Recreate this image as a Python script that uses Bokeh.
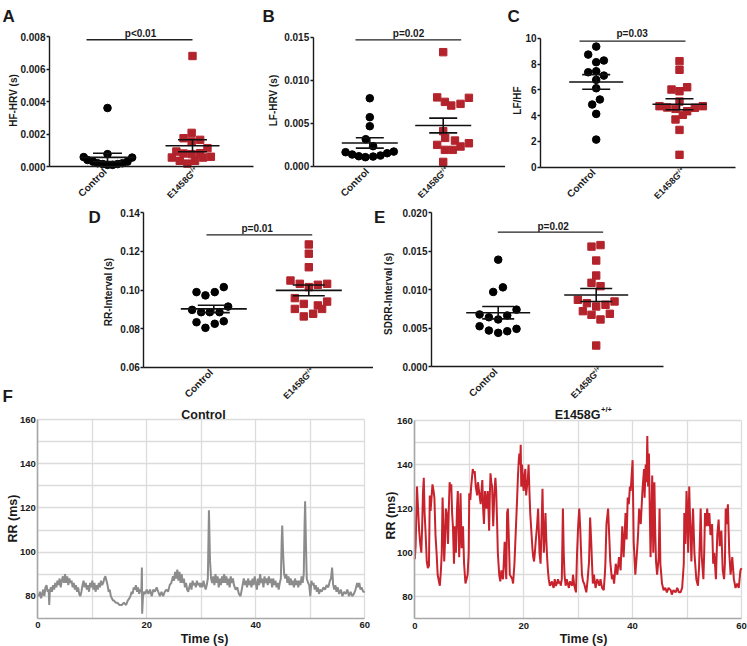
import math
from bokeh.plotting import figure
from bokeh.layouts import row, column
from bokeh.models import Label, FixedTicker, NumeralTickFormatter, Range1d
from bokeh.embed import file_html
from bokeh.resources import INLINE

FONT = "Liberation Sans"
RED = "#b3232b"
TXT = "#1a1a1a"

groups = ["Control", "E1458G"]
sup = "+/+"

# ---------------- Panel A : HF-HRV ----------------
a_ctrl = [0.0036, 0.00076, 0.00058, 0.00055, 0.0004, 0.0003, 0.0002, 0.00015, 0.0001, 0.0001, 0.00015, 0.0002, 0.0003]
a_ctrl_dx = [0, 0, -0.28, 0.29, -0.235, -0.17, -0.115, -0.055, 0, 0.06, 0.12, 0.175, 0.235]
a_mut = [0.0068, 0.00207, 0.00174, 0.00164, 0.00154, 0.00092, 0.00113, 0.00082, 0.00076, 0.0008, 0.00055, 0.0006, 0.00055, 0.00035, 0.00035, 0.00018]
a_mut_dx = [0, -0.01, -0.105, 0.09, -0.01, -0.19, 0.176, 0.09, -0.01, -0.105, -0.243, 0.216, 0.125, -0.15, 0.03, -0.06]
a_mean = [0.00056, 0.00128]
a_sem = [0.00026, 0.00037]
a_ticks = [0, 0.002, 0.004, 0.006, 0.008]
a_pline = [0.753, 2.0, 0.0078]
a_ptext = "p<0.01"

# ---------------- Panel B : LF-HRV ----------------
b_ctrl = [0.0079, 0.0057, 0.00465, 0.00314, 0.00233, 0.00163, 0.00136, 0.00116, 0.00105, 0.00112, 0.00124, 0.00151, 0.0017]
b_ctrl_dx = [0, 0, 0, -0.055, 0.045, -0.33, -0.24, -0.15, -0.06, 0.045, 0.145, 0.236, 0.327]
b_mut = [0.01326, 0.008, 0.00748, 0.00705, 0.00725, 0.00795, 0.00407, 0.00329, 0.00298, 0.00248, 0.00229, 0.00267, 0.0019, 0.0019, 0.0005]
b_mut_dx = [0, -0.082, 0.023, 0.11, 0.236, 0.35, 0, 0.027, 0.16, -0.082, 0.236, 0.35, 0.023, 0.13, 0]
b_mean = [0.0027, 0.00473]
b_sem = [0.0006, 0.00086]
b_ticks = [0, 0.005, 0.010, 0.015]
b_pline = [0.805, 2.245, 0.0147]
b_ptext = "p=0.02"

# ---------------- Panel C : LF/HF ----------------
c_ctrl = [9.35, 8.73, 8.14, 8.27, 7.36, 7.44, 7.1, 6.77, 6.12, 5.25, 4.86, 4.13, 2.14]
c_ctrl_dx = [0, -0.096, 0, 0.092, -0.096, 0, 0.092, 0, 0, 0.044, -0.048, 0, 0]
c_mut = [8.22, 7.55, 6.02, 5.89, 6.2, 5.09, 4.73, 4.63, 4.52, 4.6, 4.73, 4.34, 4.06, 3.7, 2.89, 0.96]
c_mut_dx = [0, 0, -0.096, 0, 0.092, 0, -0.24, -0.148, -0.048, 0.184, 0.28, 0.092, 0.04, -0.048, 0, 0]
c_mean = [6.61, 4.88]
c_sem = [0.57, 0.43]
c_ticks = [0, 2, 4, 6, 8, 10]
c_pline = [0.8, 2.072, 9.77]
c_ptext = "p=0.03"

# ---------------- Panel D : RR-Interval ----------------
d_ctrl = [0.0989, 0.0972, 0.0989, 0.1015, 0.0897, 0.0885, 0.0885, 0.0885, 0.0914, 0.0833, 0.0804, 0.0825, 0.0838]
d_ctrl_dx = [-0.182, -0.088, 0.01, 0.105, -0.228, -0.133, -0.042, 0.06, 0.151, -0.182, -0.088, 0.01, 0.105]
d_mut = [0.1236, 0.1188, 0.1118, 0.1049, 0.1032, 0.1015, 0.1027, 0.1032, 0.0958, 0.0928, 0.094, 0.0902, 0.092, 0.0902, 0.0863, 0.0877]
d_mut_dx = [0, 0, 0, -0.193, -0.095, 0, 0.095, 0.193, -0.147, -0.053, 0.193, -0.147, 0.095, 0.14, -0.053, 0.046]
d_mean = [0.0902, 0.0998]
d_sem = [0.0019, 0.0028]
d_ticks = [0.06, 0.08, 0.10, 0.12, 0.14]
d_pline = [0.923, 2.036, 0.1286]
d_ptext = "p=0.01"

# ---------------- Panel E : SDRR-Interval ----------------
e_ctrl = [0.0139, 0.0103, 0.0097, 0.0074, 0.00677, 0.00641, 0.00612, 0.00664, 0.00524, 0.00468, 0.00438, 0.00459, 0.0049]
e_ctrl_dx = [0, 0.048, -0.051, 0.187, -0.19, -0.095, 0, 0.092, -0.19, -0.095, 0, 0.092, 0.187]
e_mut = [0.0156, 0.0158, 0.01379, 0.01184, 0.01089, 0.01045, 0.00868, 0.00824, 0.00781, 0.00803, 0.00846, 0.0072, 0.00673, 0.00612, 0.00686, 0.00273]
e_mut_dx = [-0.048, 0.044, 0, 0, -0.048, 0.044, -0.187, -0.095, 0, 0.095, 0.187, -0.136, -0.048, 0.044, 0.139, 0]
e_mean = [0.0070, 0.0093]
e_sem = [0.0008, 0.00085]
e_ticks = [0, 0.005, 0.010, 0.015, 0.020]
e_pline = [0.996, 2.071, 0.01748]
e_ptext = "p=0.02"

# ---------------- Panel F : RR traces ----------------
f_xticks = [0, 20, 40, 60]
f_xgrid = [0, 10, 20, 30, 40, 50, 60]
f_yticks = [80, 100, 120, 140, 160]
f_ygrid = [80, 90, 100, 110, 120, 130, 140, 150, 160]

ctrl_t = [0.0, 0.2, 0.4, 0.6, 0.8, 1.0, 1.2, 1.4, 1.6, 1.8, 2.0, 2.1, 2.2, 2.4, 2.6, 2.8, 3.0, 3.2, 3.4, 3.6,
          3.8, 4.0, 4.2, 4.4, 4.6, 4.8, 5.0, 5.2, 5.4, 5.6, 5.8, 6.0, 6.2, 6.4, 6.6, 6.8, 7.0, 7.2, 7.4, 7.6,
          7.8, 8.0, 8.2, 8.4, 8.6, 8.8, 9.0, 9.2, 9.4, 9.6, 9.8, 10.0, 10.2, 10.4, 10.6, 10.8, 11.0, 11.2, 11.4, 11.6,
          11.8, 12.0, 12.2, 12.4, 12.6, 12.8, 13.0, 13.2, 13.4, 13.6, 13.8, 14.0, 14.3, 14.6, 15.0, 15.4, 15.8, 16.2, 16.5, 16.8,
          17.0, 17.2, 17.4, 17.6, 17.8, 18.0, 18.2, 18.4, 18.6, 18.8, 19.0, 19.1, 19.15, 19.3, 19.5, 19.7, 20.0, 20.3, 20.6, 20.9,
          21.2, 21.5, 21.8, 22.1, 22.4, 22.7, 23.0, 23.3, 23.6, 23.9, 24.2, 24.5, 24.8, 25.0, 25.2, 25.4, 25.6, 25.8, 26.0, 26.2,
          26.4, 26.6, 26.8, 27.0, 27.2, 27.4, 27.6, 27.8, 28.0, 28.2, 28.4, 28.6, 28.8, 29.0, 29.2, 29.4, 29.6, 29.8, 30.0, 30.2,
          30.4, 30.6, 30.8, 31.0, 31.2, 31.4, 31.6, 31.8, 32.0, 32.2, 32.4, 32.6, 32.8, 33.0, 33.2, 33.4, 33.6, 33.8, 34.0, 34.2,
          34.4, 34.6, 34.8, 35.0, 35.2, 35.4, 35.6, 35.8, 36.0, 36.3, 36.6, 36.9, 37.2, 37.5, 37.8, 38.0, 38.2, 38.4, 38.6, 38.8,
          39.0, 39.2, 39.4, 39.6, 39.8, 40.0, 40.2, 40.4, 40.6, 40.8, 41.0, 41.2, 41.4, 41.6, 41.8, 42.0, 42.2, 42.4, 42.6, 42.8,
          43.0, 43.2, 43.4, 43.6, 43.8, 44.0, 44.2, 44.4, 44.6, 44.75, 44.85, 45.0, 45.2, 45.4, 45.6, 45.8, 46.0, 46.2, 46.4, 46.6,
          46.8, 47.0, 47.2, 47.4, 47.6, 47.8, 48.0, 48.2, 48.4, 48.6, 48.8, 48.95, 49.05, 49.2, 49.35, 49.6, 49.8, 50.0, 50.2, 50.4,
          50.6, 50.8, 51.0, 51.2, 51.4, 51.6, 51.8, 52.1, 52.4, 52.7, 53.0, 53.3, 53.6, 53.8, 54.0, 54.2, 54.4, 54.6, 54.8, 55.0,
          55.3, 55.6, 55.9, 56.2, 56.5, 56.8, 57.1, 57.4, 57.7, 58.0, 58.3, 58.6, 58.8, 59.0, 59.2, 59.4, 59.7, 60.0]
ctrl_rr = [81, 80, 82, 79, 81, 83, 80, 84, 85, 82, 83, 76, 82, 84, 82, 85, 83, 86, 84, 87,
           85, 88, 84, 87, 89, 86, 90, 86, 89, 85, 88, 86, 87, 84, 86, 83, 85, 82, 84, 81,
           80, 82, 85, 87, 84, 86, 83, 85, 82, 86, 84, 87, 83, 86, 82, 85, 83, 86, 84, 87,
           85, 86, 88, 89, 87, 85, 82, 83, 80, 79, 78, 78, 77, 77, 76, 76, 77, 76, 78, 79,
           80, 82, 81, 84, 83, 85, 82, 84, 81, 83, 82, 93, 72, 80, 82, 81, 83, 81, 83, 80,
           83, 82, 84, 82, 80, 82, 80, 82, 83, 82, 85, 86, 89, 87, 91, 88, 92, 87, 91, 86,
           90, 86, 88, 84, 86, 83, 82, 84, 86, 83, 87, 85, 86, 84, 87, 85, 86, 84, 86, 84,
           87, 85, 83, 85, 88, 119, 96, 88, 86, 89, 85, 90, 86, 89, 84, 88, 85, 89, 86, 90,
           86, 89, 85, 88, 84, 89, 86, 88, 85, 83, 84, 81, 80, 84, 88, 85, 87, 84, 88, 85,
           87, 84, 88, 85, 89, 86, 83, 88, 85, 90, 86, 88, 84, 89, 86, 88, 85, 89, 86, 88,
           84, 88, 85, 87, 84, 86, 83, 86, 88, 105, 112, 100, 90, 88, 90, 86, 89, 85, 88, 85,
           87, 84, 88, 85, 87, 84, 87, 85, 89, 86, 90, 112, 123, 104, 88, 86, 85, 80, 87, 85,
           86, 83, 85, 82, 84, 81, 83, 82, 84, 83, 85, 84, 87, 88, 93, 85, 83, 85, 82, 84,
           81, 83, 80, 82, 81, 83, 80, 82, 80, 81, 83, 86, 84, 86, 83, 84, 82, 82]

mut_t = [0.0, 0.15, 0.4, 0.6, 0.8, 1.0, 1.2, 1.35, 1.5, 1.65, 1.8, 2.0, 2.2, 2.4, 2.6, 2.75, 2.9, 3.1, 3.25, 3.45,
         3.6, 3.8, 4.0, 4.2, 4.35, 4.5, 4.6, 4.8, 4.95, 5.1, 5.25, 5.4, 5.55, 5.7, 5.85, 6.0, 6.1, 6.25, 6.4, 6.55,
         6.7, 6.85, 7.0, 7.2, 7.35, 7.55, 7.75, 7.9, 8.05, 8.15, 8.4, 8.6, 8.85, 9.05, 9.3, 9.5, 9.7, 9.9, 10.0, 10.2,
         10.35, 10.5, 10.65, 10.8, 11.0, 11.2, 11.45, 11.6, 11.8, 12.0, 12.1, 12.25, 12.4, 12.55, 12.7, 12.9, 13.05, 13.2, 13.4, 13.55,
         13.65, 13.8, 13.9, 14.05, 14.2, 14.3, 14.4, 14.6, 14.8, 14.95, 15.1, 15.25, 15.4, 15.5, 15.7, 15.9, 16.05, 16.2, 16.35, 16.5,
         16.65, 16.8, 16.95, 17.1, 17.25, 17.45, 17.7, 17.9, 18.05, 18.3, 18.45, 18.6, 18.8, 18.95, 19.1, 19.2, 19.35, 19.45, 19.55, 19.7,
         19.85, 20.0, 20.15, 20.3, 20.45, 20.6, 20.75, 20.9, 21.05, 21.2, 21.4, 21.6, 21.75, 21.9, 22.05, 22.2, 22.45, 22.65, 22.8, 22.9,
         23.1, 23.3, 23.45, 23.6, 23.7, 23.85, 24.0, 24.15, 24.3, 24.45, 24.6, 24.8, 25.0, 25.2, 25.35, 25.5, 25.7, 25.9, 26.1, 26.3,
         26.5, 26.7, 26.8, 27.0, 27.2, 27.35, 27.5, 27.7, 27.9, 28.1, 28.3, 28.5, 28.7, 28.9, 29.05, 29.3, 29.6, 29.8, 30.0, 30.2,
         30.4, 30.6, 30.7, 30.9, 31.1, 31.3, 31.5, 31.75, 32.0, 32.2, 32.4, 32.55, 32.7, 32.9, 33.2, 33.5, 33.9, 34.1, 34.4, 34.7,
         34.9, 35.0, 35.2, 35.5, 35.7, 35.9, 36.2, 36.4, 36.6, 36.8, 36.9, 37.2, 37.5, 37.8, 38.1, 38.35, 38.5, 38.7, 38.9, 39.1,
         39.3, 39.5, 39.65, 39.8, 39.9, 40.0, 40.2, 40.5, 40.8, 41.0, 41.2, 41.5, 41.8, 42.1, 42.2, 42.4, 42.55, 42.7, 42.85, 43.0,
         43.15, 43.3, 43.45, 43.6, 43.8, 44.0, 44.15, 44.3, 44.5, 44.8, 44.95, 45.1, 45.4, 45.7, 46.0, 46.3, 46.6, 47.0, 47.2, 47.5,
         47.9, 48.2, 48.5, 48.8, 49.1, 49.4, 49.5, 49.7, 49.9, 50.0, 50.2, 50.4, 50.5, 50.8, 50.95, 51.1, 51.35, 51.7, 52.0, 52.2,
         52.4, 52.5, 52.7, 53.0, 53.15, 53.3, 53.5, 53.7, 53.9, 54.1, 54.3, 54.6, 54.8, 55.0, 55.3, 55.55, 55.8, 56.0, 56.3, 56.55,
         56.8, 56.95, 57.1, 57.25, 57.5, 57.75, 58.0, 58.3, 58.6, 58.9, 59.2, 59.5, 59.8, 60.0]
mut_rr = [97, 103, 130, 120, 110, 104, 100, 112, 127, 134, 118, 108, 96, 93, 94, 126, 119, 126, 131, 128,
          125, 108, 100, 90, 88, 86, 85, 92, 100, 125, 112, 96, 105, 120, 118, 110, 104, 120, 132, 128,
          131, 118, 112, 95, 112, 100, 120, 128, 110, 98, 127, 102, 112, 95, 86, 88, 90, 100, 127, 124,
          130, 134, 138, 136, 137, 130, 126, 132, 128, 124, 122, 128, 133, 120, 113, 128, 124, 120, 128, 118,
          110, 128, 136, 132, 130, 120, 112, 126, 134, 128, 115, 100, 94, 90, 87, 92, 89, 88, 96, 105,
          95, 88, 118, 120, 108, 90, 89, 88, 86, 95, 104, 113, 125, 135, 142, 145, 140, 149, 130, 140,
          132, 128, 135, 138, 126, 130, 133, 140, 128, 118, 110, 102, 98, 96, 100, 105, 112, 120, 108, 100,
          95, 113, 129, 110, 100, 108, 118, 106, 98, 92, 88, 85, 86, 87, 85, 84, 88, 85, 86, 88,
          86, 87, 85, 88, 120, 100, 90, 85, 88, 86, 84, 87, 86, 85, 90, 85, 82, 100, 112, 120,
          110, 96, 90, 87, 86, 84, 82, 88, 96, 116, 105, 95, 86, 90, 84, 88, 85, 88, 84, 83,
          90, 95, 113, 120, 108, 96, 88, 90, 86, 92, 95, 90, 98, 92, 112, 98, 106, 118, 106, 125,
          122, 130, 128, 134, 138, 142, 105, 90, 100, 108, 120, 113, 128, 138, 125, 140, 132, 153, 130, 145,
          120, 98, 115, 135, 100, 132, 110, 96, 90, 98, 120, 95, 86, 83, 84, 82, 84, 83, 81, 83,
          82, 84, 82, 82, 84, 95, 118, 104, 128, 122, 100, 130, 120, 96, 110, 120, 100, 88, 85, 93,
          110, 120, 98, 88, 100, 118, 112, 120, 112, 118, 108, 113, 95, 100, 88, 108, 115, 103, 110, 92,
          88, 95, 120, 113, 122, 100, 90, 98, 88, 84, 86, 84, 92, 93]


class PxMap:
    """Linear map from a page pixel position to a data value."""
    def __init__(self, px0, v0, px1, v1):
        self.px0, self.v0 = px0, v0
        self.s = (v1 - v0) / (px1 - px0)

    def __call__(self, px):
        return self.v0 + (px - self.px0) * self.s


def make_fig(box, X, Y, **kw):
    # box = (left, right, top, bottom) in page pixels; the frame covers the whole canvas
    l, r, t, b = box
    p = figure(width=r - l, height=b - t, x_range=Range1d(X(l), X(r)), y_range=Range1d(Y(b), Y(t)),
               output_backend="svg", toolbar_location=None, tools="", min_border=0, **kw)
    p.min_border_left = p.min_border_right = p.min_border_top = p.min_border_bottom = 0
    p.outline_line_color = None
    p.title.visible = False
    return p


def lab(p, X, Y, px, py, text, size="10px", **kw):
    base = dict(x=X(px), y=Y(py), text=text, text_font=FONT, text_font_style="bold",
                text_color=TXT, text_font_size=size)
    base.update(kw)
    p.add_layout(Label(**base))


def scatter_panel(box, cat_px, ypx, yv, axis_px, xend_px, ticks, fmt, ylabel, ylab_c,
                  letter, let_pos, ctrl, ctrl_dx, mut, mut_dx, mean, sem,
                  mean_hw_px, cap_hw_px, pline, ptext, ptext_pos):
    X = PxMap(cat_px[0], 1, cat_px[1], 2)
    Y = PxMap(ypx[0], yv[0], ypx[1], yv[1])
    p = make_fig(box, X, Y)
    p.xgrid.visible = False
    p.ygrid.visible = False

    yax = p.yaxis[0]
    yax.fixed_location = X(axis_px)
    yax.bounds = (yv[0], yv[1])
    yax.ticker = FixedTicker(ticks=ticks)
    yax.formatter = NumeralTickFormatter(format=fmt)
    yax.axis_line_color = TXT
    yax.axis_line_width = 1.4
    yax.major_tick_line_color = TXT
    yax.major_tick_line_width = 1.3
    yax.major_tick_out = 3
    yax.major_tick_in = 0
    yax.minor_tick_line_color = None
    yax.major_label_standoff = 1
    yax.major_label_text_font = FONT
    yax.major_label_text_font_style = "bold"
    yax.major_label_text_font_size = "10px"
    yax.major_label_text_color = TXT

    xax = p.xaxis[0]
    xax.fixed_location = yv[0]
    xax.bounds = (X(axis_px), X(xend_px))
    xax.ticker = FixedTicker(ticks=[])
    xax.axis_line_color = TXT
    xax.axis_line_width = 1.5
    xax.major_tick_line_color = None
    xax.minor_tick_line_color = None

    mhw = mean_hw_px * X.s
    chw = cap_hw_px * X.s

    p.scatter([1 + d for d in ctrl_dx], ctrl, marker="circle", size=7.6,
              fill_color="black", line_color="black")
    p.scatter([2 + d for d in mut_dx], mut, marker="square", size=7.4,
              fill_color=RED, line_color=RED)

    x0, x1, y0, y1 = [], [], [], []
    for c, m, s in zip([1, 2], mean, sem):
        x0 += [c - mhw, c - chw, c - chw, c]
        x1 += [c + mhw, c + chw, c + chw, c]
        y0 += [m, m + s, m - s, m - s]
        y1 += [m, m + s, m - s, m + s]
    p.segment(x0=x0, y0=y0, x1=x1, y1=y1, line_color="#111111", line_width=1.6)

    p.segment(x0=[pline[0]], y0=[pline[2]], x1=[pline[1]], y1=[pline[2]],
              line_color="#222222", line_width=1.3)
    lab(p, X, Y, ptext_pos[0], ptext_pos[1], ptext, text_align="center", text_baseline="alphabetic")
    lab(p, X, Y, ylab_c[0], ylab_c[1], ylabel, angle=math.pi / 2, text_align="center",
        text_baseline="middle")
    lab(p, X, Y, let_pos[0], let_pos[1], letter, size="17px", text_align="left",
        text_baseline="alphabetic")

    # rotated category labels, their ends just under each group
    axy = ypx[0]
    rot = dict(angle=math.pi / 4, text_align="right", text_baseline="middle")
    lab(p, X, Y, cat_px[0] - 2.5, axy + 3.5, groups[0], **rot)
    lab(p, X, Y, cat_px[1] - 0.5, axy + 7.0, groups[1], size="9px", **rot)
    lab(p, X, Y, cat_px[1] + 2.5, axy + 0.5, sup, size="6px", **rot)
    return p


def trace_panel(box, xpx, ypx, t, rr, color, ylab_c, time_c):
    X = PxMap(xpx[0], 0, xpx[1], 60)
    Y = PxMap(ypx[0], 160, ypx[1], 70)
    p = make_fig(box, X, Y)
    xax, yax = p.xaxis[0], p.yaxis[0]
    xax.fixed_location = 70
    xax.bounds = (0, 60)
    yax.fixed_location = 0
    yax.bounds = (70, 160)
    xax.ticker = FixedTicker(ticks=f_xticks)
    yax.ticker = FixedTicker(ticks=f_yticks)
    for ax in (xax, yax):
        ax.axis_line_color = "#a8a8a8"
        ax.axis_line_width = 1.6
        ax.major_tick_line_color = None
        ax.major_tick_out = 0
        ax.major_tick_in = 0
        ax.minor_tick_line_color = None
        ax.major_label_text_font = FONT
        ax.major_label_text_font_style = "bold"
        ax.major_label_text_font_size = "9.5px"
        ax.major_label_text_color = TXT
    xax.major_label_standoff = 4
    yax.major_label_standoff = 2

    xg, yg = p.xgrid[0], p.ygrid[0]
    xg.ticker = FixedTicker(ticks=f_xgrid)
    yg.ticker = FixedTicker(ticks=f_ygrid)
    try:
        xg.bounds = (0, 60)
        yg.bounds = (70, 160)
        xg.cross_bounds = (70, 160)
        yg.cross_bounds = (0, 60)
        for g in (xg, yg):
            g.grid_line_color = "#dcdcdc"
            g.grid_line_width = 1.3
    except AttributeError:
        xg.visible = False
        yg.visible = False
        p.segment(x0=f_xgrid, y0=[70] * len(f_xgrid), x1=f_xgrid, y1=[160] * len(f_xgrid),
                  line_color="#dcdcdc", line_width=1.3)
        p.segment(x0=[0] * len(f_ygrid), y0=f_ygrid, x1=[60] * len(f_ygrid), y1=f_ygrid,
                  line_color="#dcdcdc", line_width=1.3)

    p.line(t, rr, line_color=color, line_width=2)
    lab(p, X, Y, time_c[0], time_c[1], "Time (s)", size="12.5px", text_align="center",
        text_baseline="middle")
    lab(p, X, Y, ylab_c[0], ylab_c[1], "RR (ms)", size="12.5px", angle=math.pi / 2,
        text_align="center", text_baseline="middle")
    return p, X, Y


# ----- row 1 : y 0..203 -----
pA = scatter_panel((0, 258, 0, 203), (107, 192), (166, 36), (0, 0.008), 49, 253, a_ticks, "0.000",
                   "HF-HRV (s)", (13, 100), "A", (2, 15.5), a_ctrl, a_ctrl_dx, a_mut, a_mut_dx,
                   a_mean, a_sem, 27, 14.5, a_pline, a_ptext, (140, 33))
pB = scatter_panel((258, 505, 0, 203), (369.3, 442.7), (165.7, 36.7), (0, 0.015), 312.7, 505, b_ticks, "0.000",
                   "LF-HRV (s)", (273.3, 100), "B", (262, 15.5), b_ctrl, b_ctrl_dx, b_mut, b_mut_dx,
                   b_mean, b_sem, 28, 14, b_pline, b_ptext, (408, 32.5))
pC = scatter_panel((505, 747, 0, 203), (595.7, 679), (166.7, 37.7), (0, 10), 540, 735, c_ticks, "0",
                   "LF/HF", (517.3, 100), "C", (507, 15.5), c_ctrl, c_ctrl_dx, c_mut, c_mut_dx,
                   c_mean, c_sem, 27, 14, c_pline, c_ptext, (631.7, 33))

# ----- row 2 : y 203..404 -----
XL = PxMap(0, 0, 80, 80)
YL = PxMap(203, 0, 404, -201)
pL = make_fig((0, 80, 203, 404), XL, YL, x_axis_type=None, y_axis_type=None)
pL.xgrid.visible = False
pL.ygrid.visible = False
lab(pL, XL, YL, 2, 395.5, "F", size="17px", text_align="left", text_baseline="alphabetic")

pD = scatter_panel((80, 373, 203, 404), (213.3, 308.3), (366.7, 212.3), (0.06, 0.14), 143.3, 373, d_ticks, "0.00",
                   "RR-Interval (s)", (108.3, 291.5), "D", (88, 216.5), d_ctrl, d_ctrl_dx, d_mut, d_mut_dx,
                   d_mean, d_sem, 33, 16, d_pline, d_ptext, (256.7, 227.5))
pE = scatter_panel((373, 747, 203, 404), (497.7, 595.7), (366, 212.3), (0, 0.020), 431, 662.7, e_ticks, "0.000",
                   "SDRR-Interval (s)", (388.3, 293.3), "E", (373.5, 216.5), e_ctrl, e_ctrl_dx, e_mut, e_mut_dx,
                   e_mean, e_sem, 32, 16, e_pline, e_ptext, (552.7, 225.5))

# ----- row 3 : y 404..646 -----
pF1, X1, Y1 = trace_panel((0, 375, 404, 646), (37.3, 364.3), (419.3, 617.7), ctrl_t, ctrl_rr, "#8c8c8c",
                          (12, 518), (204, 638))
lab(pF1, X1, Y1, 203, 414, groups[0], size="12.5px", text_align="center", text_baseline="alphabetic")

pF2, X2, Y2 = trace_panel((375, 747, 404, 646), (414.3, 741), (420, 618.3), mut_t, mut_rr, "#c8232c",
                          (390, 515), (583, 638))
lab(pF2, X2, Y2, 600, 414.5, groups[1], size="12.5px", text_align="right", text_baseline="alphabetic")
lab(pF2, X2, Y2, 600.5, 409, sup, size="7.5px", text_align="left", text_baseline="alphabetic")

layout = column(
    row(pA, pB, pC),
    row(pL, pD, pE),
    row(pF1, pF2),
)

open("out.html", "w").write(file_html(layout, INLINE))
